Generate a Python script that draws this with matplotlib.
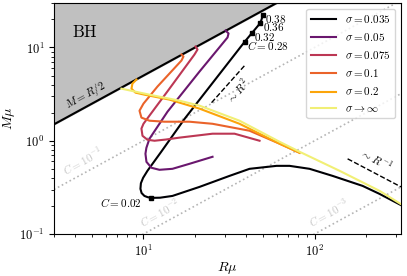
import numpy as np
import matplotlib
matplotlib.use('Agg')
import matplotlib.pyplot as plt
from matplotlib.ticker import FuncFormatter, NullFormatter

plt.rcParams['mathtext.fontset'] = 'cm'
plt.rcParams['font.family'] = 'DejaVu Serif'

# --- data (R*mu, M*mu) ---
R_035 = [49.9, 48.3, 43.2, 39.0, 17.4, 12.7, 10.55, 9.95, 9.66, 9.60, 9.75, 10.13, 10.6, 11.14, 12.5,
         14.77, 21.26, 31.84, 41.69, 59.95, 71.42, 93.5, 127.4, 190.9, 239.9, 318.4]
M_035 = [22.3, 18.4, 14.4, 11.5, 1.72, 0.762, 0.476, 0.40, 0.35, 0.305, 0.275, 0.256, 0.248, 0.244, 0.245,
         0.256, 0.32, 0.42, 0.50, 0.538, 0.538, 0.50, 0.42, 0.328, 0.269, 0.205]

R_05 = [30.17, 31.42, 31.00, 21.26, 13.82, 10.84, 10.4, 10.27, 10.41, 11.14, 12.40, 14.77, 18.58, 25.33]
M_05 = [15.23, 14.15, 12.81, 5.52, 2.05, 1.05, 0.84, 0.725, 0.594, 0.513, 0.488, 0.50, 0.566, 0.673]

R_075 = [20.14, 20.70, 19.87, 14.19, 10.84, 10.0, 9.73, 9.87, 10.55, 11.60, 13.5, 16.24, 25.33, 34.06, 47.69]
M_075 = [10.25, 9.52, 8.41, 3.62, 1.86, 1.52, 1.35, 1.13, 1.025, 1.00, 1.03, 1.08, 1.19, 1.19, 1.00]

R_1 = [16.68, 17.13, 16.68, 12.07, 10.0, 9.48, 9.73, 10.84, 13.27, 18.58, 25.33, 41.69, 62.42, 81.73]
M_1 = [8.41, 8.00, 7.25, 3.81, 2.50, 2.10, 1.77, 1.64, 1.60, 1.60, 1.52, 1.28, 0.93, 0.743]

R_2 = [9.10, 8.62, 8.51, 8.98, 10.13, 14.19, 21.26, 36.43, 62.42, 81.73]
M_2 = [4.53, 4.10, 3.62, 3.28, 3.12, 2.76, 2.21, 1.52, 0.93, 0.743]

R_inf = [7.43, 10.84, 16.24, 21.26, 36.43, 62.42, 81.73, 140.0, 239.9, 318.4]
M_inf = [3.62, 3.12, 2.69, 2.38, 1.64, 0.975, 0.762, 0.476, 0.290, 0.210]

series_R = [R_035, R_05, R_075, R_1, R_2, R_inf]
series_M = [M_035, M_05, M_075, M_1, M_2, M_inf]
sigma_labels = [r'$\sigma = 0.035$', r'$\sigma = 0.05$', r'$\sigma = 0.075$',
                r'$\sigma = 0.1$', r'$\sigma = 0.2$', r'$\sigma \rightarrow \infty$']

# marked compactness points on the sigma=0.035 branch
mark_R = [49.9, 48.3, 43.2, 39.0, 11.14]
mark_M = [22.3, 18.4, 14.4, 11.5, 0.244]
mark_txt = [r'$0.38$', r'$0.36$', r'$0.32$', r'$C = 0.28$', r'$C = 0.02$']

C_lines = [1e-1, 1e-2, 1e-3]
C_texts = [r'$C = 10^{-1}$', r'$C = 10^{-2}$', r'$C = 10^{-3}$']

xlim = (3, 320)
ylim = (0.1, 30)

colors = plt.cm.inferno([0.0, 0.3, 0.5, 0.65, 0.8, 0.95])

fig = plt.figure(figsize=(4.07, 2.76), dpi=100)
ax = fig.add_axes([54/407, 42/276, 347/407, 231/276])
ax.set_xscale('log')
ax.set_yscale('log')
ax.set_xlim(*xlim)
ax.set_ylim(*ylim)

def angle(slope, x0=10, y0=1):
    p1 = ax.transData.transform((x0, y0))
    p2 = ax.transData.transform((x0 * 10, y0 * 10**slope))
    return np.degrees(np.arctan2(p2[1] - p1[1], p2[0] - p1[0]))

# constant-compactness lines
rr = np.array(xlim)
for C in C_lines:
    ax.plot(rr, C * rr, ls=':', color='#b5b5b5', lw=1.2, zorder=1)
a1 = angle(1)
ax.text(4.4, 0.61, C_texts[0], rotation=a1, color='#c8c8c8', fontsize=8, ha='center', va='center', rotation_mode='anchor')
ax.text(12.4, 0.168, C_texts[1], rotation=a1, color='#c8c8c8', fontsize=8, ha='center', va='center', rotation_mode='anchor')
ax.text(121, 0.168, C_texts[2], rotation=a1, color='#c8c8c8', fontsize=8, ha='center', va='center', rotation_mode='anchor')

# black hole region
ax.fill_between(rr, rr / 2, ylim[1], color='#c0c0c0', zorder=2)
ax.plot(rr, rr / 2, color='k', lw=1.5, zorder=3)
ax.text(4.52, 14.5, r'$\mathrm{BH}$', fontsize=12, ha='center', va='center')
ax.text(4.58, 3.05, r'$M = R/2$', rotation=a1, fontsize=8, ha='center', va='center', rotation_mode='anchor')

for R, M, c, lab in zip(series_R, series_M, colors, sigma_labels):
    ax.plot(R, M, color=c, lw=1.5, label=lab, zorder=4)

ax.plot(mark_R, mark_M, 's', color='k', ms=3, zorder=5)
for i, t in enumerate(mark_txt):
    if i < 4:
        ax.annotate(t, (mark_R[i], mark_M[i]), xytext=(1.5, -3), textcoords='offset points',
                    fontsize=8, ha='left', va='center')
    else:
        ax.annotate(t, (mark_R[i], mark_M[i]), xytext=(-7, -3), textcoords='offset points',
                    fontsize=8, ha='right', va='center')

# scaling guides
ax.plot([25.0, 39.0], [2.56, 6.4], 'k--', lw=1)
ax.text(35.5, 3.45, r'$\sim R^2$', rotation=angle(2), fontsize=8, ha='center', va='center', rotation_mode='anchor')
ax.plot([156, 320], [0.64, 0.32], 'k--', lw=1)
ax.text(230, 0.62, r'$\sim R^{-1}$', rotation=angle(-1), fontsize=8, ha='center', va='center', rotation_mode='anchor')

fmt = FuncFormatter(lambda v, p: r'$10^{%d}$' % round(np.log10(v)))
ax.xaxis.set_major_formatter(fmt)
ax.yaxis.set_major_formatter(fmt)
ax.xaxis.set_minor_formatter(NullFormatter())
ax.yaxis.set_minor_formatter(NullFormatter())
ax.tick_params(labelsize=9)

ax.set_xlabel(r'$R\mu$', fontsize=10, labelpad=1)
ax.set_ylabel(r'$M\mu$', fontsize=10, labelpad=1)

ax.legend(loc='upper right', fontsize=8, handlelength=2.3, labelspacing=0.55)

fig.savefig('out.png', dpi=100)
